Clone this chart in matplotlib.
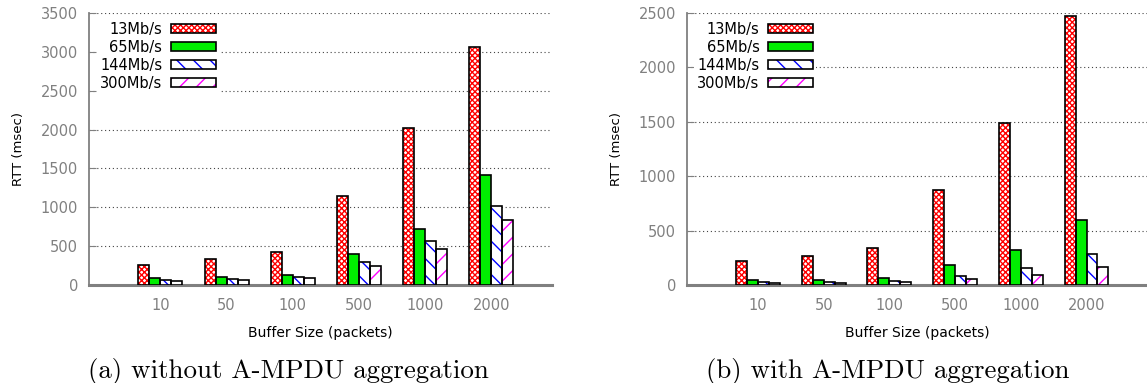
import numpy as np
import matplotlib.pyplot as plt
from matplotlib.patches import Patch
from matplotlib.legend_handler import HandlerTuple

buffers = ['10', '50', '100', '500', '1000', '2000']
rates = ['13Mb/s', '65Mb/s', '144Mb/s', '300Mb/s']

# (a) without aggregation, RTT in msec
noagg_13 = [257, 339, 429, 1150, 2015, 3067]
noagg_65 = [86, 107, 133, 399, 725, 1416]
noagg_144 = [58, 82, 107, 292, 571, 1021]
noagg_300 = [56, 69, 90, 249, 467, 841]

# (b) with aggregation
agg_13 = [223, 263, 336, 877, 1489, 2472]
agg_65 = [43, 49, 67, 180, 321, 593]
agg_144 = [24, 27, 34, 86, 156, 287]
agg_300 = [18, 18, 24, 58, 92, 162]

# face, hatch colour, hatch
styles = [('white', 'red', 'xxxxxx'),
          ('#00ee00', '#00ee00', None),
          ('white', 'blue', '\\\\'),
          ('white', 'magenta', '//')]

GRAY = '#808080'


def draw(ax, series, ymax):
    x = np.arange(len(buffers))
    w = 1 / 6
    for j, (vals, (fc, hc, hatch)) in enumerate(zip(series, styles)):
        pos = x + (j - 1.5) * w
        ax.bar(pos, vals, w, color=fc, edgecolor=hc, hatch=hatch, linewidth=0, zorder=3)
        ax.bar(pos, vals, w, fill=False, edgecolor='black', linewidth=1.2, zorder=4)

    ax.set_xlim(-1.08, 5.92)
    ax.set_ylim(0, ymax)
    ax.set_xticks(x)
    ax.set_xticklabels(buffers)
    ax.set_yticks(np.arange(0, ymax + 1, 500))
    ax.yaxis.grid(True, linestyle=(0, (1, 2.5)), color='#444444', linewidth=0.8)
    ax.set_axisbelow(True)

    for s in ['top', 'right']:
        ax.spines[s].set_visible(False)
    ax.spines['left'].set_color(GRAY)
    ax.spines['left'].set_linewidth(1.3)
    ax.spines['bottom'].set_color(GRAY)
    ax.spines['bottom'].set_linewidth(2.2)

    ax.tick_params(axis='y', direction='in', length=5, color=GRAY, labelcolor=GRAY,
                   labelsize=10.5, pad=8)
    ax.tick_params(axis='x', length=0, labelcolor=GRAY, labelsize=10.5, pad=9)
    ax.set_ylabel('RTT (msec)', fontsize=9.5, labelpad=11)
    ax.set_xlabel('Buffer Size (packets)', fontsize=10, labelpad=10)

    handles = [(Patch(facecolor=fc, edgecolor=hc, hatch=hatch, linewidth=0),
                Patch(fill=False, edgecolor='black', linewidth=1.2))
               for fc, hc, hatch in styles]
    ax.legend(handles, rates, handler_map={tuple: HandlerTuple(ndivide=1, pad=0)},
              markerfirst=False, loc='upper right', bbox_to_anchor=(0.281, 0.978),
              frameon=True, framealpha=1, edgecolor='none', fancybox=False,
              fontsize=10.5, handlelength=3.1, handleheight=0.62, labelspacing=0.2,
              borderpad=0.2, handletextpad=0.6, borderaxespad=0)


fig = plt.figure(figsize=(11.47, 3.83), dpi=100)
ax1 = fig.add_axes([89 / 1147, 98 / 383, 463 / 1147, 272 / 383])
ax2 = fig.add_axes([687 / 1147, 98 / 383, 460 / 1147, 272 / 383])

draw(ax1, [noagg_13, noagg_65, noagg_144, noagg_300], 3500)
draw(ax2, [agg_13, agg_65, agg_144, agg_300], 2500)

fig.text(288 / 1147, 5 / 383, '(a) without A-MPDU aggregation', ha='center',
         va='baseline', family='cmr10', fontsize=19.4)
fig.text(888 / 1147, 5 / 383, '(b) with A-MPDU aggregation', ha='center',
         va='baseline', family='cmr10', fontsize=19.4)

fig.savefig('out.png', dpi=100)
